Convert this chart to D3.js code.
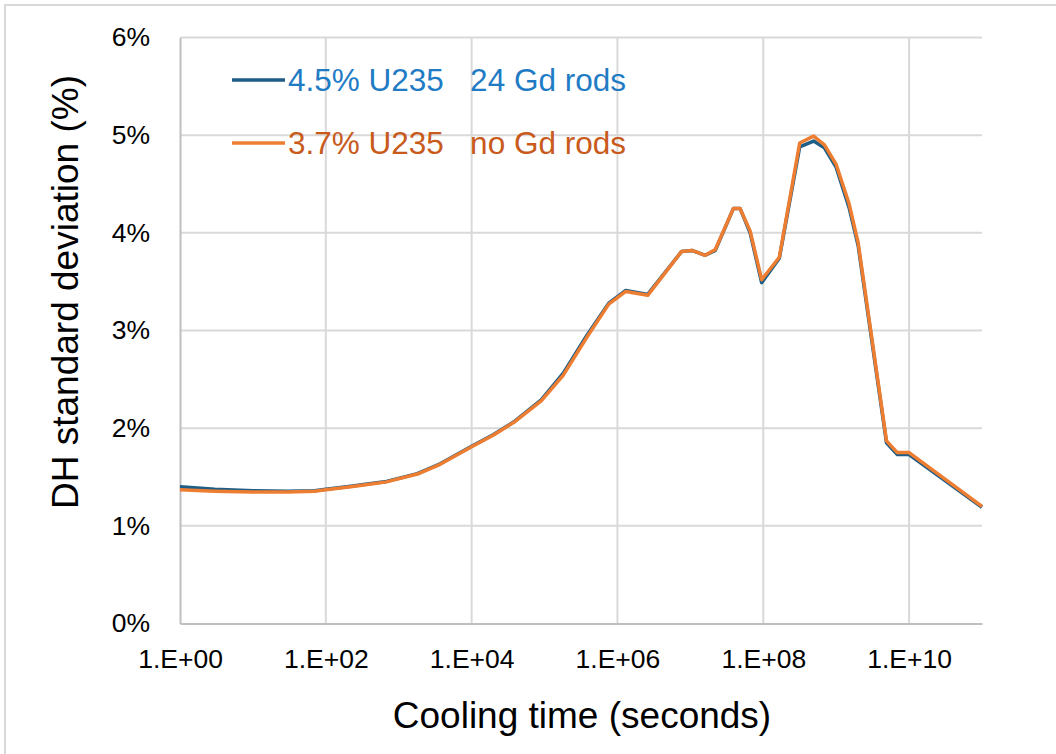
<!DOCTYPE html>
<html>
<head>
<meta charset="utf-8">
<script src="https://cdn.jsdelivr.net/npm/d3@7"></script>
<style>
  html, body { margin: 0; padding: 0; background: #fff; }
  svg { display: block; font-family: "Liberation Sans", Arial, sans-serif; }
  .legend text { white-space: pre; }
</style>
</head>
<body>
<svg id="chart" width="1056" height="754"></svg>
<script>
// Cooling time in seconds
const coolingTime = [1, 3, 10, 30, 70, 100, 220, 350, 680, 1800, 3700, 1e4, 2e4, 3.8e4, 9e4,
  1.8e5, 3.8e5, 7.6e5, 1.3e6, 2.6e6, 7.6e6, 1.05e7, 1.6e7, 2.2e7, 3.9e7, 4.8e7, 6.6e7, 9.5e7,
  1.66e8, 3.16e8, 4.9e8, 6.9e8, 1e9, 1.5e9, 2e9, 4.9e9, 6.9e9, 1e10, 1e11];

// DH standard deviation (%) for the two assembly designs
const gd24 = [1.40, 1.375, 1.36, 1.355, 1.36, 1.375, 1.405, 1.425, 1.455, 1.535, 1.635, 1.815, 1.935,
  2.065, 2.29, 2.56, 2.95, 3.28, 3.41, 3.37, 3.81, 3.82, 3.77, 3.82, 4.25, 4.25, 4.00, 3.49, 3.74,
  4.88, 4.94, 4.87, 4.67, 4.26, 3.87, 1.85, 1.73, 1.73, 1.19];
const noGd = [1.37, 1.355, 1.347, 1.347, 1.354, 1.37, 1.40, 1.42, 1.45, 1.53, 1.63, 1.81, 1.93,
  2.06, 2.28, 2.54, 2.93, 3.27, 3.40, 3.36, 3.81, 3.82, 3.77, 3.83, 4.25, 4.25, 4.02, 3.52, 3.75,
  4.92, 4.99, 4.90, 4.70, 4.30, 3.90, 1.87, 1.75, 1.75, 1.20];

const seriesNames = ["4.5% U235   24 Gd rods", "3.7% U235   no Gd rods"];
const xTicks = [1e0, 1e2, 1e4, 1e6, 1e8, 1e10];
const yTicks = [0, 1, 2, 3, 4, 5, 6];
const xTitle = "Cooling time (seconds)";
const yTitle = "DH standard deviation (%)";

const svg = d3.select("#chart");

// outer chart frame
svg.append("rect")
  .attr("x", 5).attr("y", 5).attr("width", 1070).attr("height", 780)
  .attr("fill", "none").attr("stroke", "#d9d9d9").attr("stroke-width", 2);

const plotLeft = 180, plotRight = 982, plotTop = 37.5, plotBottom = 623.5;

const x = d3.scaleLog().domain([1, 1e11]).range([plotLeft, plotRight]);
const y = d3.scaleLinear().domain([0, 6]).range([plotBottom, plotTop]);

// horizontal gridlines
svg.append("g")
  .selectAll("line")
  .data(yTicks.filter(d => d > 0))
  .join("line")
  .attr("x1", plotLeft).attr("x2", plotRight)
  .attr("y1", d => y(d)).attr("y2", d => y(d))
  .attr("stroke", "#d9d9d9").attr("stroke-width", 2);

// vertical gridlines
svg.append("g")
  .selectAll("line")
  .data(xTicks.filter(d => d > 1))
  .join("line")
  .attr("x1", d => x(d)).attr("x2", d => x(d))
  .attr("y1", plotTop).attr("y2", plotBottom)
  .attr("stroke", "#d9d9d9").attr("stroke-width", 2);

// axes
const fmtX = d => "1.E+" + String(Math.round(Math.log10(d))).padStart(2, "0");
const xAxis = svg.append("g")
  .attr("transform", `translate(0,${plotBottom})`)
  .call(d3.axisBottom(x).tickValues(xTicks).tickFormat(fmtX).tickSize(0).tickPadding(26));
xAxis.select(".domain").attr("stroke", "#bfbfbf").attr("stroke-width", 2);
xAxis.selectAll("text").attr("font-size", 26.5).attr("fill", "#000")
  .attr("font-family", "Liberation Sans, Arial, sans-serif");

const yAxis = svg.append("g")
  .attr("transform", `translate(${plotLeft},0)`)
  .call(d3.axisLeft(y).tickValues(yTicks).tickFormat(d => d + "%").tickSize(0).tickPadding(30));
yAxis.select(".domain").attr("stroke", "#bfbfbf").attr("stroke-width", 2);
yAxis.selectAll("text").attr("font-size", 26.5).attr("fill", "#000")
  .attr("font-family", "Liberation Sans, Arial, sans-serif");

// axis titles
svg.append("text")
  .attr("x", 582).attr("y", 715)
  .attr("text-anchor", "middle").attr("dominant-baseline", "central")
  .attr("font-size", 37).attr("fill", "#000")
  .text(xTitle);

svg.append("text")
  .attr("transform", "translate(65,292) rotate(-90)")
  .attr("text-anchor", "middle").attr("dominant-baseline", "central")
  .attr("font-size", 37).attr("fill", "#000")
  .text(yTitle);

// series lines
const lineColors = ["#1d5d86", "#ed7d31"];
const textColors = ["#1f7cc4", "#c85a1c"];
const series = [gd24, noGd];

const line = d3.line()
  .x((d, i) => x(coolingTime[i]))
  .y(d => y(d));

series.forEach((vals, k) => {
  svg.append("path")
    .datum(vals)
    .attr("d", line)
    .attr("fill", "none")
    .attr("stroke", lineColors[k])
    .attr("stroke-width", 3.5)
    .attr("stroke-linejoin", "round");
});

// legend
const legend = svg.append("g").attr("class", "legend");
const legendY = [80, 143];
seriesNames.forEach((name, k) => {
  legend.append("line")
    .attr("x1", 232).attr("x2", 285)
    .attr("y1", legendY[k]).attr("y2", legendY[k])
    .attr("stroke", lineColors[k]).attr("stroke-width", 3.5);
  legend.append("text")
    .attr("x", 288).attr("y", legendY[k])
    .attr("dominant-baseline", "central")
    .attr("font-size", 31.5)
    .attr("fill", textColors[k])
    .text(name);
});
</script>
</body>
</html>
